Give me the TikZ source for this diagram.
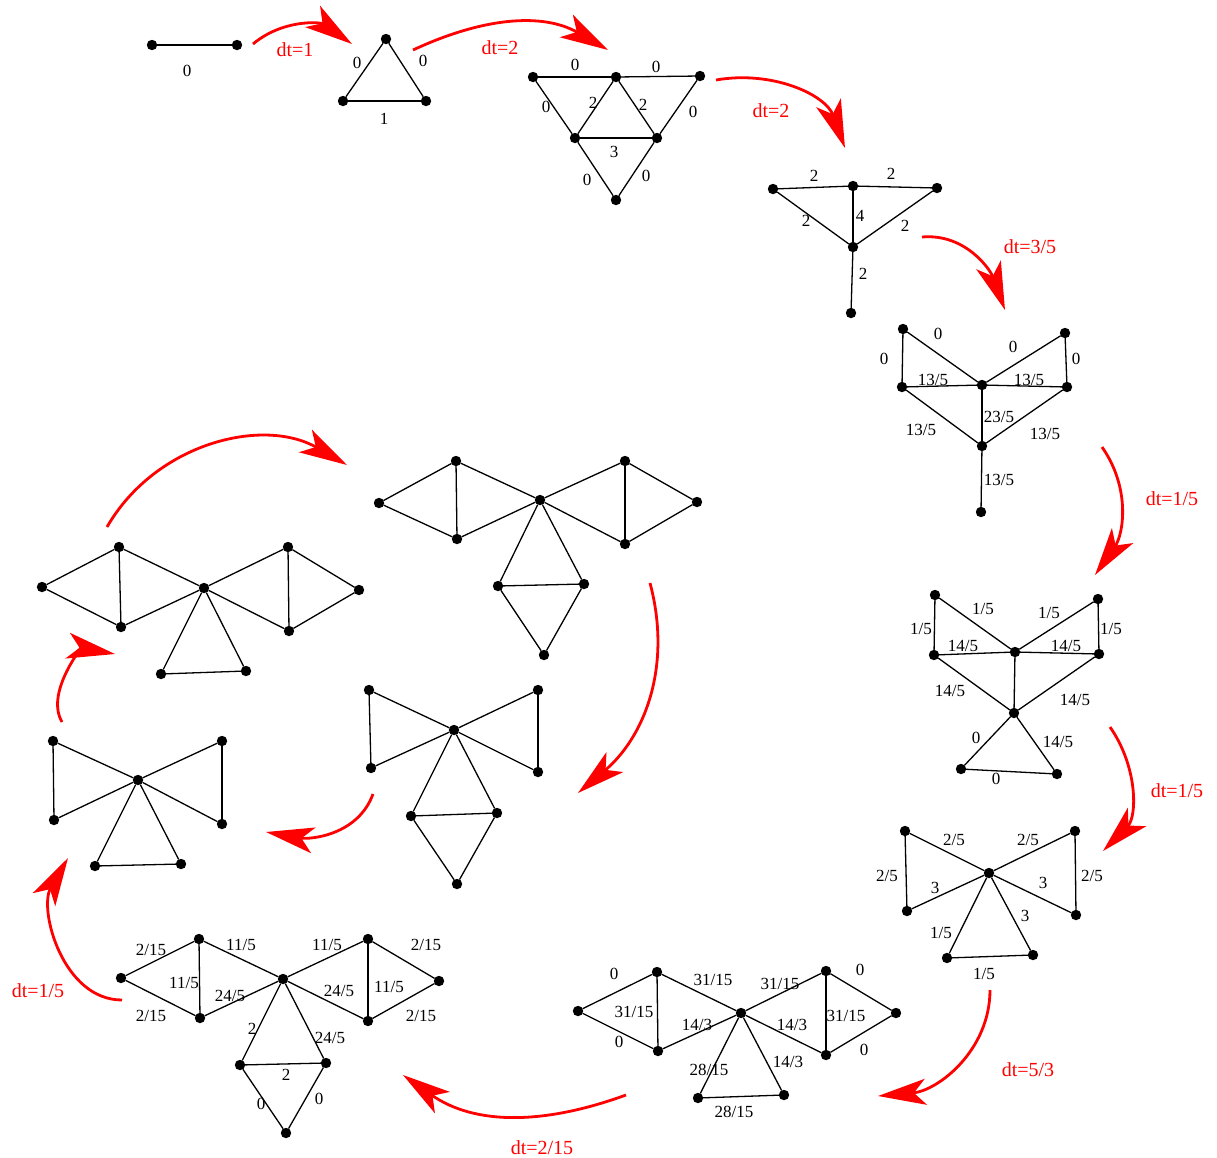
\documentclass[tikz,border=0pt]{standalone}
\usepackage{fontspec}
\setmainfont{Liberation Serif}
\usetikzlibrary{arrows.meta}

\begin{document}
\begin{tikzpicture}[x=0.5pt,y=-0.5pt,line width=0.65pt,
    dot/.style={draw,circle,fill=black,inner sep=0pt,minimum size=4.5pt},
    wt/.style={font=\fontsize{8.5}{10}\selectfont,inner sep=1pt},
    flow/.style={red,line width=1.4pt,-{Stealth[length=24pt,width=13pt,inset=6pt]}},
    dt/.style={red,font=\fontsize{10}{12}\selectfont}]
    \useasboundingbox (0,0) rectangle (1217,1158);

    % one edge
    \node (g1a) at (152,45) [dot] {};
    \node (g1b) at (237,45) [dot] {};
    \draw (g1a) edge (g1b);
    \node (w1a) at (187,71) [wt] {0};

    % triangle
    \node (g2a) at (386,39) [dot] {};
    \node (g2b) at (343,101) [dot] {};
    \node (g2c) at (426,101) [dot] {};
    \draw (g2a) edge (g2b) (g2a) edge (g2c) (g2b) edge (g2c);
    \node (w2a) at (357,63) [wt] {0};
    \node (w2b) at (423,61) [wt] {0};
    \node (w2c) at (384,119) [wt] {1};

    % four triangles
    \node (g3a) at (533,77) [dot] {};
    \node (g3b) at (616,77) [dot] {};
    \node (g3c) at (700,76) [dot] {};
    \node (g3d) at (575,138) [dot] {};
    \node (g3e) at (657,138) [dot] {};
    \node (g3f) at (616,200) [dot] {};
    \draw (g3a) edge (g3b) (g3b) edge (g3c)
          (g3a) edge (g3d) (g3b) edge (g3d)
          (g3b) edge (g3e) (g3c) edge (g3e)
          (g3d) edge (g3e) (g3d) edge (g3f)
          (g3e) edge (g3f);
    \node (w3a) at (575,65) [wt] {0};
    \node (w3b) at (656,67) [wt] {0};
    \node (w3c) at (546,107) [wt] {0};
    \node (w3d) at (593,103) [wt] {2};
    \node (w3e) at (643,105) [wt] {2};
    \node (w3f) at (693,112) [wt] {0};
    \node (w3g) at (614,152) [wt] {3};
    \node (w3h) at (587,180) [wt] {0};
    \node (w3i) at (646,176) [wt] {0};

    % two triangles and a tail
    \node (g4a) at (773,189) [dot] {};
    \node (g4b) at (853,186) [dot] {};
    \node (g4c) at (937,188) [dot] {};
    \node (g4d) at (853,247) [dot] {};
    \node (g4e) at (851,313) [dot] {};
    \draw (g4a) edge (g4b) (g4b) edge (g4c)
          (g4a) edge (g4d) (g4b) edge (g4d)
          (g4c) edge (g4d) (g4d) edge (g4e);
    \node (w4a) at (814,176) [wt] {2};
    \node (w4b) at (891,174) [wt] {2};
    \node (w4c) at (806,221) [wt] {2};
    \node (w4d) at (860,216) [wt] {4};
    \node (w4e) at (905,226) [wt] {2};
    \node (w4f) at (863,274) [wt] {2};

    \node (g5a) at (903,329) [dot] {};
    \node (g5b) at (1065,333) [dot] {};
    \node (g5c) at (902,387) [dot] {};
    \node (g5d) at (982,385) [dot] {};
    \node (g5e) at (1067,387) [dot] {};
    \node (g5f) at (982,446) [dot] {};
    \node (g5g) at (981,512) [dot] {};
    \draw (g5a) edge (g5c) (g5a) edge (g5d)
          (g5b) edge (g5d) (g5b) edge (g5e)
          (g5c) edge (g5d) (g5d) edge (g5e)
          (g5c) edge (g5f) (g5d) edge (g5f)
          (g5e) edge (g5f) (g5f) edge (g5g);
    \node (w5a) at (938,334) [wt] {0};
    \node (w5b) at (884,359) [wt] {0};
    \node (w5c) at (1013,347) [wt] {0};
    \node (w5d) at (1076,359) [wt] {0};
    \node (w5e) at (933,380) [wt] {13/5};
    \node (w5f) at (1029,380) [wt] {13/5};
    \node (w5g) at (999,417) [wt] {23/5};
    \node (w5h) at (921,430) [wt] {13/5};
    \node (w5i) at (1045,434) [wt] {13/5};
    \node (w5j) at (999,480) [wt] {13/5};

    \node (g6a) at (935,595) [dot] {};
    \node (g6b) at (1098,599) [dot] {};
    \node (g6c) at (934,655) [dot] {};
    \node (g6d) at (1015,652) [dot] {};
    \node (g6e) at (1099,654) [dot] {};
    \node (g6f) at (1014,713) [dot] {};
    \node (g6g) at (961,769) [dot] {};
    \node (g6h) at (1057,774) [dot] {};
    \draw (g6a) edge (g6c) (g6a) edge (g6d)
          (g6b) edge (g6d) (g6b) edge (g6e)
          (g6c) edge (g6d) (g6d) edge (g6e)
          (g6c) edge (g6f) (g6d) edge (g6f)
          (g6e) edge (g6f) (g6f) edge (g6g)
          (g6f) edge (g6h) (g6g) edge (g6h);
    \node (w6a) at (983,609) [wt] {1/5};
    \node (w6b) at (1049,613) [wt] {1/5};
    \node (w6c) at (921,629) [wt] {1/5};
    \node (w6d) at (1111,629) [wt] {1/5};
    \node (w6e) at (963,646) [wt] {14/5};
    \node (w6f) at (1066,646) [wt] {14/5};
    \node (w6g) at (950,691) [wt] {14/5};
    \node (w6h) at (1075,700) [wt] {14/5};
    \node (w6i) at (976,738) [wt] {0};
    \node (w6j) at (1058,742) [wt] {14/5};
    \node (w6k) at (996,779) [wt] {0};

    \node (g7a) at (905,831) [dot] {};
    \node (g7b) at (1075,831) [dot] {};
    \node (g7c) at (989,873) [dot] {};
    \node (g7d) at (907,911) [dot] {};
    \node (g7e) at (1076,915) [dot] {};
    \node (g7f) at (947,958) [dot] {};
    \node (g7g) at (1033,955) [dot] {};
    \draw (g7a) edge (g7c) (g7b) edge (g7c)
          (g7a) edge (g7d) (g7b) edge (g7e)
          (g7d) edge (g7c) (g7e) edge (g7c)
          (g7c) edge (g7f) (g7c) edge (g7g)
          (g7f) edge (g7g);
    \node (w7a) at (954,840) [wt] {2/5};
    \node (w7b) at (1028,840) [wt] {2/5};
    \node (w7c) at (887,876) [wt] {2/5};
    \node (w7d) at (1092,876) [wt] {2/5};
    \node (w7e) at (935,888) [wt] {3};
    \node (w7f) at (1043,883) [wt] {3};
    \node (w7g) at (1025,916) [wt] {3};
    \node (w7h) at (941,933) [wt] {1/5};
    \node (w7i) at (984,974) [wt] {1/5};

    \node (g8a) at (578,1011) [dot] {};
    \node (g8b) at (657,972) [dot] {};
    \node (g8c) at (658,1051) [dot] {};
    \node (g8d) at (741,1013) [dot] {};
    \node (g8e) at (826,971) [dot] {};
    \node (g8f) at (826,1055) [dot] {};
    \node (g8g) at (896,1013) [dot] {};
    \node (g8h) at (698,1098) [dot] {};
    \node (g8i) at (784,1095) [dot] {};
    \draw (g8a) edge (g8b) (g8a) edge (g8c) (g8b) edge (g8c)
          (g8b) edge (g8d) (g8c) edge (g8d)
          (g8d) edge (g8e) (g8d) edge (g8f) (g8e) edge (g8f)
          (g8e) edge (g8g) (g8f) edge (g8g)
          (g8d) edge (g8h) (g8d) edge (g8i) (g8h) edge (g8i);
    \node (w8a) at (614,974) [wt] {0};
    \node (w8b) at (619,1042) [wt] {0};
    \node (w8c) at (634,1012) [wt] {31/15};
    \node (w8d) at (713,980) [wt] {31/15};
    \node (w8e) at (697,1025) [wt] {14/3};
    \node (w8f) at (780,984) [wt] {31/15};
    \node (w8g) at (792,1025) [wt] {14/3};
    \node (w8h) at (846,1016) [wt] {31/15};
    \node (w8i) at (860,970) [wt] {0};
    \node (w8j) at (864,1050) [wt] {0};
    \node (w8k) at (709,1070) [wt] {28/15};
    \node (w8l) at (788,1062) [wt] {14/3};
    \node (w8m) at (734,1112) [wt] {28/15};

    \node (g9a) at (121,978) [dot] {};
    \node (g9b) at (199,939) [dot] {};
    \node (g9c) at (200,1018) [dot] {};
    \node (g9d) at (283,979) [dot] {};
    \node (g9e) at (368,939) [dot] {};
    \node (g9f) at (368,1021) [dot] {};
    \node (g9g) at (439,981) [dot] {};
    \node (g9h) at (240,1065) [dot] {};
    \node (g9i) at (326,1063) [dot] {};
    \node (g9j) at (286,1133) [dot] {};
    \draw (g9a) edge (g9b) (g9a) edge (g9c) (g9b) edge (g9c)
          (g9b) edge (g9d) (g9c) edge (g9d)
          (g9d) edge (g9e) (g9d) edge (g9f) (g9e) edge (g9f)
          (g9e) edge (g9g) (g9f) edge (g9g)
          (g9d) edge (g9h) (g9d) edge (g9i) (g9h) edge (g9i)
          (g9h) edge (g9j) (g9i) edge (g9j);
    \node (w9a) at (151,950) [wt] {2/15};
    \node (w9b) at (151,1016) [wt] {2/15};
    \node (w9c) at (184,983) [wt] {11/5};
    \node (w9d) at (241,945) [wt] {11/5};
    \node (w9e) at (230,996) [wt] {24/5};
    \node (w9f) at (327,945) [wt] {11/5};
    \node (w9g) at (339,991) [wt] {24/5};
    \node (w9h) at (389,987) [wt] {11/5};
    \node (w9i) at (426,945) [wt] {2/15};
    \node (w9j) at (421,1016) [wt] {2/15};
    \node (w9k) at (252,1029) [wt] {2};
    \node (w9l) at (330,1038) [wt] {24/5};
    \node (w9m) at (286,1075) [wt] {2};
    \node (w9n) at (261,1104) [wt] {0};
    \node (w9o) at (319,1099) [wt] {0};

    % unlabelled graphs
    \node (g10a) at (53,741) [dot] {};
    \node (g10b) at (222,741) [dot] {};
    \node (g10c) at (138,780) [dot] {};
    \node (g10d) at (54,820) [dot] {};
    \node (g10e) at (222,824) [dot] {};
    \node (g10f) at (95,866) [dot] {};
    \node (g10g) at (181,864) [dot] {};
    \draw (g10a) edge (g10c) (g10b) edge (g10c)
          (g10a) edge (g10d) (g10b) edge (g10e)
          (g10d) edge (g10c) (g10e) edge (g10c)
          (g10c) edge (g10f) (g10c) edge (g10g)
          (g10f) edge (g10g);

    \node (g11a) at (42,587) [dot] {};
    \node (g11b) at (119,547) [dot] {};
    \node (g11c) at (121,627) [dot] {};
    \node (g11d) at (204,588) [dot] {};
    \node (g11e) at (288,547) [dot] {};
    \node (g11f) at (289,631) [dot] {};
    \node (g11g) at (359,590) [dot] {};
    \node (g11h) at (161,674) [dot] {};
    \node (g11i) at (246,671) [dot] {};
    \draw (g11a) edge (g11b) (g11a) edge (g11c) (g11b) edge (g11c)
          (g11b) edge (g11d) (g11c) edge (g11d)
          (g11d) edge (g11e) (g11d) edge (g11f) (g11e) edge (g11f)
          (g11e) edge (g11g) (g11f) edge (g11g)
          (g11d) edge (g11h) (g11d) edge (g11i) (g11h) edge (g11i);

    \node (g12a) at (379,503) [dot] {};
    \node (g12b) at (456,461) [dot] {};
    \node (g12c) at (457,539) [dot] {};
    \node (g12d) at (540,500) [dot] {};
    \node (g12e) at (625,461) [dot] {};
    \node (g12f) at (625,544) [dot] {};
    \node (g12g) at (697,502) [dot] {};
    \node (g12h) at (498,586) [dot] {};
    \node (g12i) at (584,584) [dot] {};
    \node (g12j) at (544,655) [dot] {};
    \draw (g12a) edge (g12b) (g12a) edge (g12c) (g12b) edge (g12c)
          (g12b) edge (g12d) (g12c) edge (g12d)
          (g12d) edge (g12e) (g12d) edge (g12f) (g12e) edge (g12f)
          (g12e) edge (g12g) (g12f) edge (g12g)
          (g12d) edge (g12h) (g12d) edge (g12i) (g12h) edge (g12i)
          (g12h) edge (g12j) (g12i) edge (g12j);

    \node (g13a) at (369,690) [dot] {};
    \node (g13b) at (538,690) [dot] {};
    \node (g13c) at (454,730) [dot] {};
    \node (g13d) at (371,768) [dot] {};
    \node (g13e) at (538,772) [dot] {};
    \node (g13f) at (411,816) [dot] {};
    \node (g13g) at (497,813) [dot] {};
    \node (g13h) at (457,884) [dot] {};
    \draw (g13a) edge (g13c) (g13b) edge (g13c)
          (g13a) edge (g13d) (g13b) edge (g13e)
          (g13d) edge (g13c) (g13e) edge (g13c)
          (g13c) edge (g13f) (g13c) edge (g13g)
          (g13f) edge (g13g) (g13f) edge (g13h) (g13g) edge (g13h);

    % red steps
    \coordinate (f1s) at (253,44);   \coordinate (f1e) at (352,44);
    \coordinate (f2s) at (413,50);   \coordinate (f2e) at (608,50);
    \coordinate (f3s) at (716,80);   \coordinate (f3e) at (845,148);
    \coordinate (f4s) at (922,237);  \coordinate (f4e) at (1005,310);
    \coordinate (f5s) at (1102,447); \coordinate (f5e) at (1095,575);
    \coordinate (f6s) at (1110,727); \coordinate (f6e) at (1103,851);
    \coordinate (f7s) at (990,990);  \coordinate (f7e) at (878,1096);
    \coordinate (f8s) at (626,1095); \coordinate (f8e) at (403,1075);
    \coordinate (f9s) at (122,1000); \coordinate (f9e) at (68,858);
    \coordinate (f10s) at (62,722);  \coordinate (f10e) at (115,654);
    \coordinate (f11s) at (107,527); \coordinate (f11e) at (347,465);
    \coordinate (f12s) at (650,583); \coordinate (f12e) at (578,793);
    \coordinate (f13s) at (373,794); \coordinate (f13e) at (266,832);
    \draw[flow] (f1s) to[out=40,in=145] (f1e);
    \draw[flow] (f2s) to[out=25,in=150] (f2e);
    \draw[flow] (f3s) to[out=10,in=110] (f3e);
    \draw[flow] (f4s) to[out=5,in=110] (f4e);
    \draw[flow] (f5s) to[out=-55,in=55] (f5e);
    \draw[flow] (f6s) to[out=-55,in=45] (f6e);
    \draw[flow] (f7s) to[out=-90,in=5] (f7e);
    \draw[flow] (f8s) to[out=-160,in=-35] (f8e);
    \draw[flow] (f9s) to[out=180,in=-120] (f9e);
    \draw[flow] (f10s) to[out=120,in=170] (f10e);
    \draw[flow] (f11s) to[out=60,in=150] (f11e);
    \draw[flow] (f12s) to[out=-75,in=40] (f12e);
    \draw[flow] (f13s) to[out=-110,in=-10] (f13e);
    \node (d1) at (295,50) [dt] {dt=1};
    \node (d2) at (500,48) [dt] {dt=2};
    \node (d3) at (771,111) [dt] {dt=2};
    \node (d4) at (1030,247) [dt] {dt=3/5};
    \node (d5) at (1172,499) [dt] {dt=1/5};
    \node (d6) at (1177,791) [dt] {dt=1/5};
    \node (d7) at (1028,1070) [dt] {dt=5/3};
    \node (d8) at (542,1148) [dt] {dt=2/15};
    \node (d9) at (38,991) [dt] {dt=1/5};
\end{tikzpicture}
\end{document}
